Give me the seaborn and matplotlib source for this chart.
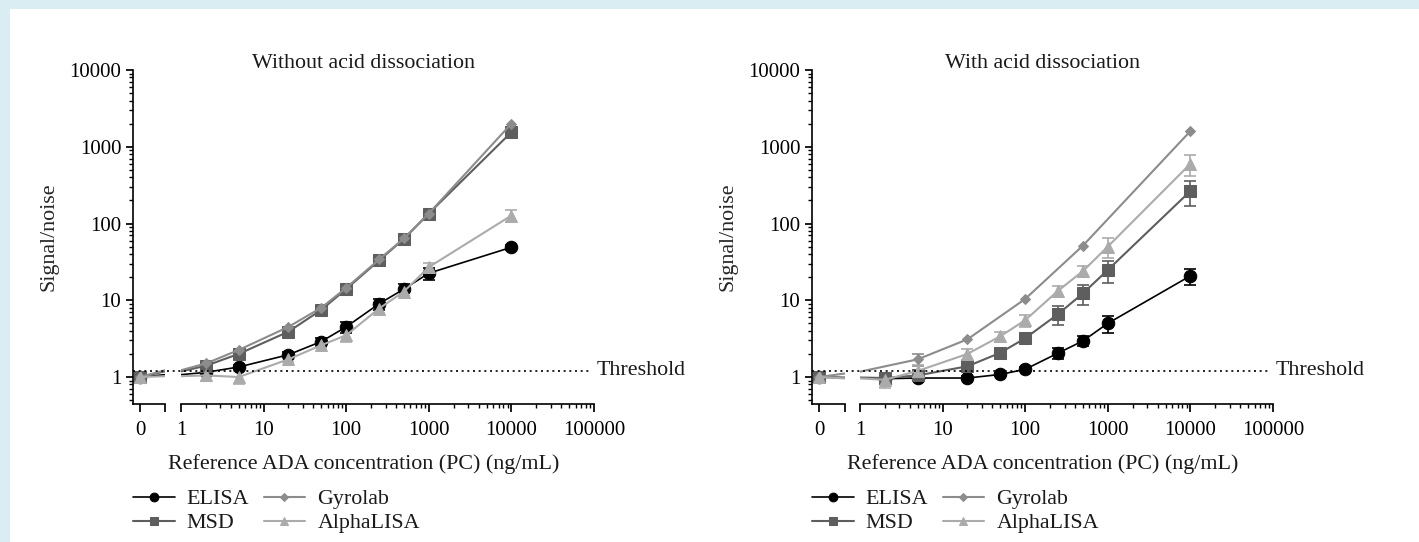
import numpy as np
import pandas as pd
import seaborn as sns
import matplotlib.pyplot as plt
import matplotlib.ticker as mticker
import matplotlib.transforms as mtransforms
from matplotlib.patches import Rectangle

# 数据=================================================================
conc = [0, 2, 5, 20, 50, 100, 250, 500, 1000, 10000]
assays = ['ELISA', 'MSD', 'Gyrolab', 'AlphaLISA']

# Without acid dissociation
elisa_wo = [1.0, 1.15, 1.35, 1.95, 2.9, 4.5, 9.0, 14.0, 22.5, 49]
elisa_wo_err = [0.05, 0.1, 0.1, 0.15, 0.35, 0.7, 1.5, 2.5, 4.0, 4.0]
msd_wo = [1.0, 1.4, 2.0, 3.9, 7.5, 14.0, 33, 63, 135, 1550]
msd_wo_err = [0, 0.1, 0.15, 0.3, 0.5, 0.8, 2, 4, 8, 150]
gyro_wo = [1.0, 1.5, 2.25, 4.5, 8.0, 14.5, 34, 64, 135, 2000]
gyro_wo_err = [0, 0, 0, 0, 0, 0, 0, 0, 0, 0]
alpha_wo = [1.0, 1.05, 1.0, 1.7, 2.6, 3.5, 7.8, 13, 27, 127]
alpha_wo_err = [0.05, 0.15, 0.2, 0.15, 0.2, 0.6, 1.0, 1.5, 4, 22]

# With acid dissociation
elisa_w = [1.0, 0.95, 0.97, 0.97, 1.08, 1.26, 2.05, 2.95, 5.0, 20.8]
elisa_w_err = [0.05, 0.05, 0.05, 0.05, 0.05, 0.08, 0.35, 0.45, 1.2, 4.8]
msd_w = [1.0, 0.97, 1.05, 1.38, 2.07, 3.2, 6.6, 12.3, 24.8, 265]
msd_w_err = [0.05, 0.1, 0.1, 0.15, 0.2, 0.45, 1.8, 3.5, 8, 95]
gyro_w = [1.0, np.nan, 1.7, 3.1, np.nan, 10.4, np.nan, 51.5, np.nan, 1600]
gyro_w_err = [0, 0, 0.3, 0, 0, 0, 0, 0, 0, 0]
alpha_w = [1.0, 0.92, 1.2, 2.0, 3.4, 5.5, 13.3, 24, 50, 600]
alpha_w_err = [0.05, 0.2, 0.25, 0.35, 0.5, 1.0, 2.2, 4, 14, 180]

threshold = 1.2
x_ticks = [1, 10, 100, 1000, 10000, 100000]
y_ticks = [1, 10, 100, 1000, 10000]

# 样式
colors = {'ELISA': '#000000', 'MSD': '#5e5e5e', 'Gyrolab': '#8c8c8c', 'AlphaLISA': '#ababab'}
markers = {'ELISA': 'o', 'MSD': 's', 'Gyrolab': 'D', 'AlphaLISA': '^'}
msizes = {'ELISA': 9, 'MSD': 8.5, 'Gyrolab': 5.5, 'AlphaLISA': 8.5}
lwidths = {'ELISA': 1.2, 'MSD': 1.5, 'Gyrolab': 1.5, 'AlphaLISA': 1.5}

FS = 15.8
sns.set_theme(style='ticks')
plt.rcParams['font.family'] = ['Liberation Serif', 'DejaVu Serif']
plt.rcParams['font.size'] = FS
plt.rcParams['axes.labelsize'] = FS
plt.rcParams['legend.fontsize'] = FS
plt.rcParams['xtick.labelsize'] = 15
plt.rcParams['ytick.labelsize'] = 15
plt.rcParams['axes.linewidth'] = 1.2
plt.rcParams['xtick.major.size'] = 6
plt.rcParams['ytick.major.size'] = 5
plt.rcParams['xtick.minor.size'] = 3
plt.rcParams['ytick.minor.size'] = 3
plt.rcParams['xtick.major.pad'] = 6
plt.rcParams['xtick.color'] = 'black'
plt.rcParams['ytick.color'] = 'black'
plt.rcParams['axes.edgecolor'] = 'black'
plt.rcParams['text.color'] = '#1a1a1a'

W, H = 1419, 542
fig = plt.figure(figsize=(W / 100, H / 100), dpi=100)
fig.patch.set_facecolor('#daedf3')
fig.add_artist(Rectangle((10 / W, 0), 1, 1 - 9 / H, transform=fig.transFigure,
                         facecolor='white', edgecolor='none', zorder=0))

ZERO_POS = 0.5  # 对数轴上 0 的替代位置（在轴外，仅用于连线）


def box(x0, x1, top=70, bottom=404):
    return [x0 / W, 1 - bottom / H, (x1 - x0) / W, (bottom - top) / H]


def make_df(vals, errs):
    rows = []
    for a in assays:
        for c, v, e in zip(conc, vals[a], errs[a]):
            rows.append({'assay': a, 'conc': c, 'sn': v, 'err': e})
    return pd.DataFrame(rows)


def draw_panel(df, x_axis, x_brk, x_main0, x_main1, title):
    ax0 = fig.add_axes(box(x_axis, x_brk))
    ax1 = fig.add_axes(box(x_main0, x_main1), sharey=ax0)
    for ax in (ax0, ax1):
        ax.set_facecolor('none')
        ax.set_yscale('log')
        ax.spines[['top', 'right']].set_visible(False)

    for a in assays:
        d = df[df.assay == a].dropna(subset=['sn'])
        x_log = d.conc.replace(0, ZERO_POS)
        kw = dict(color=colors[a], marker=markers[a], markersize=msizes[a],
                  markeredgecolor=colors[a], linewidth=lwidths[a], errorbar=None)
        sns.lineplot(x=d.conc.values, y=d.sn.values, ax=ax0, **kw)
        sns.lineplot(x=x_log.values, y=d.sn.values, ax=ax1, label=a, **kw)
        e = d[(d.err > 0) & (d.conc > 0)]
        ax1.errorbar(e.conc, e.sn, yerr=e.err, fmt='none', ecolor=colors[a],
                     elinewidth=1.2, capsize=4, capthick=1.2, zorder=1.5)
        e0 = d[(d.err > 0) & (d.conc == 0)]
        ax0.errorbar(e0.conc, e0.sn, yerr=e0.err, fmt='none', ecolor=colors[a],
                     elinewidth=1.2, capsize=4, capthick=1.2, zorder=1.5)

    # 断轴部分
    ax0.set_xlim(-0.28, 1)
    ax0.set_xticks([0, 1], labels=['0', ''])
    ax0.set_ylim(0.445, 10000)
    ax0.set_yticks(y_ticks, labels=[str(t) for t in y_ticks])
    ax0.yaxis.set_minor_locator(mticker.LogLocator(base=10, subs=np.arange(2, 10)))
    ax0.yaxis.set_minor_formatter(mticker.NullFormatter())
    ax0.set_ylabel('Signal/noise', labelpad=8)

    ax1.set_xscale('log')
    ax1.set_xlim(1, 100000)
    ax1.set_xticks(x_ticks, labels=[str(t) for t in x_ticks])
    ax1.xaxis.set_minor_locator(mticker.LogLocator(base=10, subs=np.arange(2, 10)))
    ax1.xaxis.set_minor_formatter(mticker.NullFormatter())
    ax1.spines['left'].set_visible(False)
    ax1.tick_params(axis='y', which='both', left=False, labelleft=False)
    ax1.set_xlabel('')
    ax1.set_ylabel('')

    # Threshold 虚线（跨越断轴）
    p0, p1 = ax0.get_position(), ax1.get_position()
    blend = mtransforms.blended_transform_factory(fig.transFigure, ax1.transData)
    ax1.plot([p0.x0, p1.x1 - 2 / W], [threshold, threshold], transform=blend,
             color='black', linestyle=(0, (1.2, 2.2)), linewidth=1.2, clip_on=False)
    blend_ax = mtransforms.blended_transform_factory(ax1.transAxes, ax1.transData)
    ax1.text(1.007, threshold, 'Threshold', transform=blend_ax, ha='left', va='center')

    xc = (p0.x0 + p1.x1) / 2
    fig.text(xc, 1 - 63 / H, title, ha='center', va='center')
    fig.text(xc, 1 - 464 / H, 'Reference ADA concentration (PC) (ng/mL)', ha='center', va='center')

    handles, labels = ax1.get_legend_handles_labels()
    if ax1.get_legend() is not None:
        ax1.get_legend().remove()
    fig.legend(handles, labels, ncol=2, loc='upper left', frameon=False,
               bbox_to_anchor=(p0.x0, 1 - 489 / H), borderaxespad=0, borderpad=0,
               handlelength=1.9, handletextpad=0.55, columnspacing=0.65,
               labelspacing=0.17, markerscale=0.7)


df_wo = make_df({'ELISA': elisa_wo, 'MSD': msd_wo, 'Gyrolab': gyro_wo, 'AlphaLISA': alpha_wo},
                {'ELISA': elisa_wo_err, 'MSD': msd_wo_err, 'Gyrolab': gyro_wo_err, 'AlphaLISA': alpha_wo_err})
df_w = make_df({'ELISA': elisa_w, 'MSD': msd_w, 'Gyrolab': gyro_w, 'AlphaLISA': alpha_w},
               {'ELISA': elisa_w_err, 'MSD': msd_w_err, 'Gyrolab': gyro_w_err, 'AlphaLISA': alpha_w_err})

draw_panel(df_wo, 133, 165, 181, 594, 'Without acid dissociation')
draw_panel(df_w, 812, 845, 860, 1273, 'With acid dissociation')

fig.savefig('out.png', dpi=100, facecolor=fig.get_facecolor())
